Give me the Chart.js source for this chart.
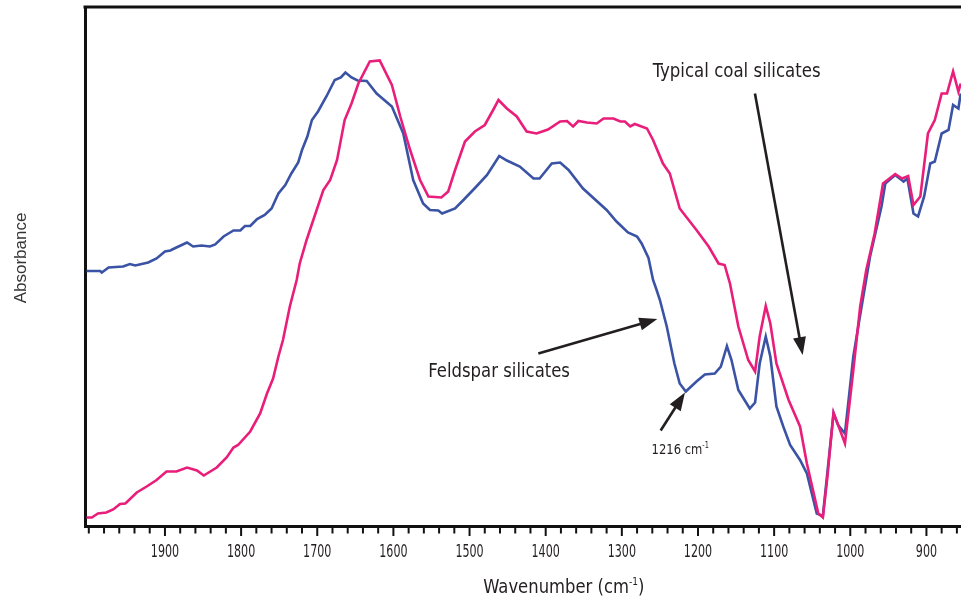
<!DOCTYPE html>
<html>
<head>
<meta charset="utf-8">
<script src="https://cdn.jsdelivr.net/npm/chart.js@4.4.1/dist/chart.umd.min.js"></script>
<style>
  html, body { margin: 0; padding: 0; background: #fff; }
  #wrap { width: 961px; height: 598px; }
</style>
</head>
<body>
<div id="wrap"><canvas id="irChart" width="961" height="598"></canvas></div>
<script>
// IR spectra, wavenumber (cm-1) vs absorbance (arbitrary units)
const coalWn = [2003, 1996, 1988, 1977, 1968, 1959, 1952, 1937, 1924, 1911, 1898, 1885, 1871, 1858, 1849, 1832, 1819, 1810, 1804, 1788,
  1775, 1766, 1758, 1751, 1745, 1736, 1727, 1723, 1714, 1703, 1692, 1683, 1674, 1664, 1655, 1646, 1631, 1618, 1602, 1591,
  1578, 1565, 1554, 1537, 1528, 1519, 1506, 1493, 1480, 1469, 1462, 1451, 1438, 1425, 1412, 1397, 1381, 1372, 1364, 1357,
  1346, 1333, 1324, 1311, 1302, 1296, 1289, 1283, 1267, 1259, 1246, 1237, 1224, 1202, 1186, 1173, 1165, 1158, 1147, 1134,
  1125, 1119, 1111, 1105, 1097, 1081, 1066, 1057, 1049, 1042, 1036, 1030, 1022, 1007, 996, 987, 979, 968, 957, 941,
  932, 924, 917, 908, 898, 889, 880, 873, 865, 858, 855];
const coalAbs = [1.7, 1.7, 2.5, 2.7, 3.3, 4.4, 4.5, 6.7, 7.9, 9.2, 10.9, 10.9, 11.7, 11.1, 10.1, 11.7, 13.7, 15.7, 16.2, 18.9,
  22.5, 26.5, 29.5, 33.9, 37.2, 43.9, 49.2, 52.5, 57.2, 62.2, 67.2, 69.2, 73.2, 81.2, 84.5, 88.5, 92.9, 93.1, 88.2, 81.9,
  75.2, 69.2, 65.9, 65.7, 66.9, 71.2, 76.9, 78.9, 80.2, 83.2, 85.2, 83.5, 81.9, 78.9, 78.5, 79.3, 80.9, 81.0, 79.9, 81.0,
  80.7, 80.5, 81.5, 81.5, 80.9, 80.9, 79.9, 80.4, 79.5, 77.2, 72.5, 70.5, 63.5, 59.2, 55.9, 52.5, 52.2, 48.5, 39.9, 33.2,
  30.9, 37.9, 44.0, 40.5, 32.5, 25.2, 19.9, 12.5, 7.2, 2.5, 1.7, 9.9, 22.7, 16.5, 31.2, 43.9, 51.2, 58.5, 68.5, 70.4,
  69.5, 70.0, 64.2, 65.9, 78.5, 81.2, 86.5, 86.5, 90.9, 86.9, 88.5];

const feldWn = [2003, 1985, 1983, 1974, 1955, 1946, 1939, 1922, 1911, 1900, 1893, 1885, 1871, 1863, 1852, 1841, 1834, 1823, 1810, 1801,
  1795, 1788, 1779, 1769, 1760, 1751, 1742, 1734, 1725, 1720, 1713, 1707, 1699, 1688, 1677, 1669, 1663, 1655, 1647, 1635,
  1622, 1602, 1587, 1574, 1561, 1552, 1541, 1536, 1519, 1508, 1491, 1477, 1461, 1451, 1434, 1416, 1408, 1392, 1381, 1370,
  1351, 1320, 1307, 1292, 1280, 1274, 1265, 1259, 1255, 1250, 1241, 1231, 1224, 1216, 1202, 1191, 1178, 1170, 1162, 1156,
  1147, 1132, 1125, 1119, 1111, 1105, 1097, 1088, 1079, 1066, 1057, 1044, 1036, 1022, 1016, 1007, 996, 987, 974, 959,
  954, 941, 930, 925, 917, 911, 903, 895, 889, 880, 871, 865, 858, 855];
const feldAbs = [51.0, 51.0, 50.7, 51.7, 51.9, 52.4, 52.1, 52.7, 53.5, 54.9, 55.1, 55.7, 56.7, 55.9, 56.1, 55.9, 56.3, 57.9, 59.1, 59.1,
  60.0, 60.0, 61.4, 62.2, 63.5, 66.5, 68.2, 70.5, 72.7, 75.2, 77.9, 81.2, 82.9, 85.9, 89.2, 89.7, 90.7, 89.7, 89.1, 89.0,
  86.5, 83.9, 78.5, 69.2, 64.5, 63.2, 63.1, 62.5, 63.5, 65.2, 67.9, 70.2, 74.0, 73.1, 71.9, 69.5, 69.5, 72.5, 72.7, 71.2,
  67.5, 63.2, 60.9, 58.7, 57.9, 56.5, 53.6, 49.2, 47.5, 45.2, 39.9, 32.5, 28.5, 26.9, 28.9, 30.3, 30.5, 31.9, 36.0, 33.2,
  27.2, 23.5, 24.7, 32.5, 37.9, 33.9, 23.9, 19.9, 16.2, 13.2, 10.5, 2.5, 2.0, 22.5, 20.2, 18.5, 33.9, 42.2, 53.9, 63.9,
  68.5, 70.2, 68.9, 69.5, 62.5, 61.9, 65.9, 72.5, 72.9, 78.5, 79.2, 84.2, 83.5, 86.5];

// labelled ticks on the wavenumber axis (2000 only gets an unlabelled minor mark)
const labelledTicks = [1900, 1800, 1700, 1600, 1500, 1400, 1300, 1200, 1100, 1000, 900];

const xTitle = ['Wavenumber (cm', '-1', ')'];
const yTitle = 'Absorbance';
const noteLabels = ['Typical coal silicates', 'Feldspar silicates', '1216 cm', '-1'];

const NARROW = '"Liberation Sans Narrow", "DejaVu Sans Condensed", "Liberation Sans", Arial, sans-serif';
const INK = '#231f20';

function toPoints(xs, ys) {
  return xs.map((x, i) => ({ x: x, y: ys[i] }));
}

// draws a run of text squeezed to a given width (condensed face look)
function drawRuns(ctx, runs, left, baseline, width, family) {
  let natural = 0;
  runs.forEach((r) => {
    ctx.font = r.size + 'px ' + family;
    natural += ctx.measureText(r.text).width;
  });
  ctx.save();
  ctx.translate(left, baseline);
  ctx.scale(width / natural, 1);
  ctx.fillStyle = INK;
  ctx.textAlign = 'left';
  ctx.textBaseline = 'alphabetic';
  let cx = 0;
  runs.forEach((r) => {
    ctx.font = r.size + 'px ' + family;
    ctx.fillText(r.text, cx, -(r.rise || 0));
    cx += ctx.measureText(r.text).width;
  });
  ctx.restore();
}

function arrow(ctx, x0, y0, x1, y1) {
  const ang = Math.atan2(y1 - y0, x1 - x0);
  const head = 18, half = 6.5;
  const bx = x1 - head * Math.cos(ang);
  const by = y1 - head * Math.sin(ang);
  ctx.strokeStyle = INK;
  ctx.fillStyle = INK;
  ctx.lineWidth = 2.6;
  ctx.beginPath();
  ctx.moveTo(x0, y0);
  ctx.lineTo(bx + 2 * Math.cos(ang), by + 2 * Math.sin(ang));
  ctx.stroke();
  ctx.beginPath();
  ctx.moveTo(x1, y1);
  ctx.lineTo(bx - half * Math.sin(ang), by + half * Math.cos(ang));
  ctx.lineTo(bx + half * Math.sin(ang), by - half * Math.cos(ang));
  ctx.closePath();
  ctx.fill();
}

const frameAndNotes = {
  id: 'frameAndNotes',
  afterDraw(chart) {
    const { ctx, chartArea: area } = chart;
    const x = chart.scales.x;
    const y = chart.scales.y;
    const px = (v) => x.getPixelForValue(v);
    const py = (v) => y.getPixelForValue(v);

    ctx.save();
    // top frame line
    ctx.strokeStyle = '#111';
    ctx.lineWidth = 3;
    ctx.beginPath();
    ctx.moveTo(area.left - 1.5, area.top);
    ctx.lineTo(area.right, area.top);
    ctx.stroke();

    // tick marks + labels on the wavenumber axis
    ctx.lineWidth = 2;
    x.ticks.forEach((t) => {
      const v = Math.round(t.value);
      if (Math.abs(t.value - Math.round(t.value / 20) * 20) > 1e-6) return;
      const major = labelledTicks.includes(v);
      const tx = px(v);
      ctx.strokeStyle = '#111';
      ctx.beginPath();
      ctx.moveTo(tx, area.bottom);
      ctx.lineTo(tx, area.bottom + (major ? 10 : 7.5));
      ctx.stroke();
      if (major) {
        const label = String(v);
        const w = 7.07 * label.length;
        drawRuns(ctx, [{ text: label, size: 17 }], tx - w / 2, 556.5, w, NARROW);
      }
    });

    // axis titles
    drawRuns(ctx, [
      { text: xTitle[0], size: 20 },
      { text: xTitle[1], size: 11, rise: 7.5 },
      { text: xTitle[2], size: 20 }
    ], 483.3, 592.7, 161, NARROW);

    ctx.save();
    ctx.translate(25.5, 258);
    ctx.rotate(-Math.PI / 2);
    ctx.font = '17px "Liberation Sans", Arial, sans-serif';
    ctx.fillStyle = '#333';
    ctx.textAlign = 'center';
    ctx.textBaseline = 'alphabetic';
    ctx.fillText(yTitle, 0, 0);
    ctx.restore();

    // annotations, anchored in data units
    drawRuns(ctx, [{ text: noteLabels[0], size: 20 }], px(1259.5), py(89.9), 168, NARROW);
    arrow(ctx, px(1125.2), py(86.5), px(1062.5), py(34.2));

    drawRuns(ctx, [{ text: noteLabels[1], size: 20 }], px(1554.2), py(29.9), 141.7, NARROW);
    arrow(ctx, px(1409.7), py(34.5), px(1253.4), py(41.4));

    drawRuns(ctx, [
      { text: noteLabels[2], size: 14 },
      { text: noteLabels[3], size: 8, rise: 6 }
    ], px(1260.9), py(14.4), 57.3, NARROW);
    arrow(ctx, px(1249), py(19.1), px(1217.1), py(26.7));

    ctx.restore();
  }
};

new Chart(document.getElementById('irChart'), {
  type: 'line',
  data: {
    datasets: [
      {
        label: 'Typical coal',
        data: toPoints(coalWn, coalAbs),
        borderColor: '#e91e7b',
        borderWidth: 2.6,
        pointRadius: 0,
        fill: false,
        tension: 0
      },
      {
        label: 'Feldspar',
        data: toPoints(feldWn, feldAbs),
        borderColor: '#3a53a4',
        borderWidth: 2.6,
        pointRadius: 0,
        fill: false,
        tension: 0
      }
    ]
  },
  options: {
    responsive: false,
    animation: false,
    layout: { padding: { top: 7, left: 0, right: 0, bottom: 0 } },
    plugins: {
      legend: { display: false },
      tooltip: { enabled: false }
    },
    scales: {
      x: {
        type: 'linear',
        reverse: true,
        min: 854.6,
        max: 2005,
        ticks: { display: false, stepSize: 20, includeBounds: false, autoSkip: false },
        grid: { display: false },
        border: { display: true, color: '#111', width: 3 },
        afterFit(s) { s.height = 72; }
      },
      y: {
        min: 0,
        max: 103.8,
        ticks: { display: false },
        grid: { display: false },
        border: { display: true, color: '#111', width: 3 },
        afterFit(s) { s.width = 85; }
      }
    }
  },
  plugins: [frameAndNotes]
});
</script>
</body>
</html>
